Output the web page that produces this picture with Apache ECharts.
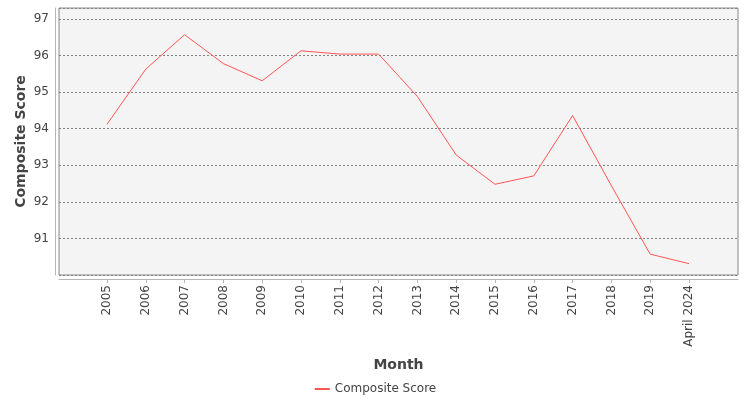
<!DOCTYPE html>
<html>
<head>
<meta charset="utf-8">
<script src="https://cdn.jsdelivr.net/npm/echarts@6/dist/echarts.min.js"></script>
<style>
html,body{margin:0;padding:0;background:#fff;}
#chart{width:750px;height:400px;}
</style>
</head>
<body>
<div id="chart"></div>
<script>
/*---- data ----*/
var months = ['2005','2006','2007','2008','2009','2010','2011','2012','2013','2014','2015','2016','2017','2018','2019','April 2024'];
var composite = [94.12, 95.63, 96.57, 95.78, 95.31, 96.13, 96.04, 96.04, 94.88, 93.28, 92.48, 92.71, 94.36, 92.44, 90.57, 90.31];
var yMin = 90, yMax = 97.3;

var font = 'DejaVu Sans';
var textColor = '#444';

var chart = echarts.init(document.getElementById('chart'));

var option = {
    animation: false,
    textStyle: {fontFamily: font},
    grid: [
        // plot box, full width
        {left: 59, right: 12, top: 8, bottom: 125, show: true,
         backgroundColor: '#f4f4f4', borderColor: '#888', borderWidth: 1},
        // data area, inset like the category margins of the original
        {left: 107, right: 61, top: 8, bottom: 125}
    ],
    xAxis: [
        {gridIndex: 0, type: 'category', data: months, boundaryGap: false, offset: 4,
         axisLine: {show: true, lineStyle: {color: '#b5b5b5'}},
         axisTick: {show: false}, axisLabel: {show: false}, splitLine: {show: false},
         name: 'Month', nameLocation: 'middle', nameGap: 79,
         nameTextStyle: {fontFamily: font, fontSize: 14, fontWeight: 'bold', color: textColor}},
        {gridIndex: 1, type: 'category', data: months, boundaryGap: false, offset: 4,
         axisLine: {show: false},
         axisTick: {show: true, length: 4, lineStyle: {color: '#b5b5b5'}},
         axisLabel: {rotate: 90, fontFamily: font, fontSize: 12, color: textColor, margin: 6, interval: 0},
         splitLine: {show: false}}
    ],
    yAxis: [
        {gridIndex: 0, type: 'value', min: yMin, max: yMax, interval: 1, offset: 4,
         axisLine: {show: true, lineStyle: {color: '#b5b5b5'}},
         axisTick: {show: false},
         axisLabel: {fontFamily: font, fontSize: 12, color: textColor, margin: 6,
                     showMinLabel: false, showMaxLabel: false},
         splitLine: {show: true, lineStyle: {color: '#808080', type: [2, 2], width: 1}},
         name: 'Composite Score', nameLocation: 'middle', nameGap: 27, nameMoveOverlap: false,
         nameTextStyle: {fontFamily: font, fontSize: 14, fontWeight: 'bold', color: textColor}},
        {gridIndex: 1, type: 'value', min: yMin, max: yMax, show: false,
         splitLine: {show: false}}
    ],
    legend: {
        top: 378, left: 'center',
        itemWidth: 15, itemHeight: 2, itemGap: 10,
        textStyle: {fontFamily: font, fontSize: 12, color: textColor},
        data: ['Composite Score']
    },
    series: [
        {
            name: 'Composite Score',
            type: 'line',
            xAxisIndex: 1,
            yAxisIndex: 1,
            data: composite,
            symbol: 'none',
            lineStyle: {color: '#ff5555', width: 1},
            itemStyle: {color: '#ff5555'}
        }
    ]
};

chart.setOption(option);
</script>
</body>
</html>
